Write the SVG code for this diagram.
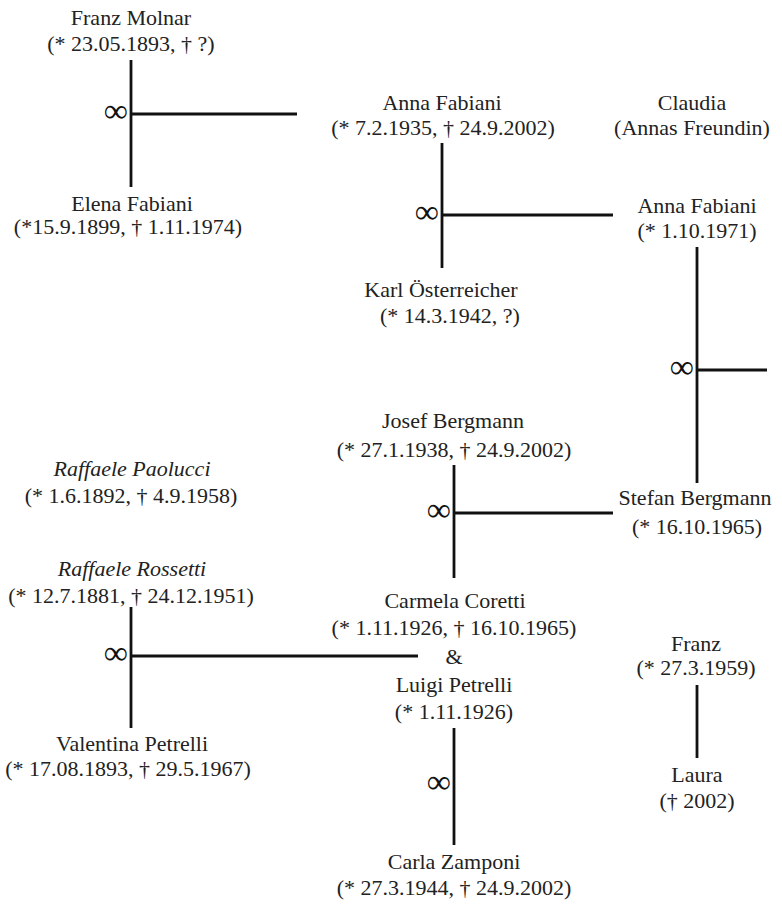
<svg xmlns="http://www.w3.org/2000/svg" width="782" height="904" viewBox="0 0 782 904">
<style>
text{font-family:'Liberation Serif','DejaVu Serif',serif;font-size:22px;fill:#222;text-anchor:middle}
.it{font-style:italic}
.inf{font-size:34px;text-anchor:end;fill:#111}
line{stroke:#111;stroke-width:2.8;stroke-linecap:butt}
</style>
<rect width="782" height="904" fill="#fff"/>
<g id="connectors">
<line x1="131" y1="60" x2="131" y2="187"/>
<line x1="131" y1="114" x2="297" y2="114"/>
<line x1="442" y1="143" x2="442" y2="268"/>
<line x1="442" y1="215" x2="613" y2="215"/>
<line x1="697" y1="247" x2="697" y2="483"/>
<line x1="697" y1="370" x2="767" y2="370"/>
<line x1="454" y1="465" x2="454" y2="578"/>
<line x1="454" y1="513" x2="613" y2="513"/>
<line x1="131" y1="607" x2="131" y2="728"/>
<line x1="131" y1="656" x2="418" y2="656"/>
<line x1="454" y1="728" x2="454" y2="845"/>
<line x1="697" y1="685" x2="697" y2="758"/>
<text class="inf" x="128" y="122">∞</text>
<text class="inf" x="439" y="223">∞</text>
<text class="inf" x="694" y="378">∞</text>
<text class="inf" x="451" y="521">∞</text>
<text class="inf" x="128" y="664">∞</text>
<text class="inf" x="451" y="793">∞</text>
</g>
<g id="franz-molnar"><text x="131" y="25">Franz Molnar</text><text x="131" y="51">(* 23.05.1893, † ?)</text></g>
<g id="elena-fabiani"><text x="132" y="211">Elena Fabiani</text><text x="128" y="234">(*15.9.1899, † 1.11.1974)</text></g>
<g id="anna-fabiani-1935"><text x="442" y="110">Anna Fabiani</text><text x="443" y="135">(* 7.2.1935, † 24.9.2002)</text></g>
<g id="claudia"><text x="692" y="110">Claudia</text><text x="692" y="135">(Annas Freundin)</text></g>
<g id="anna-fabiani-1971"><text x="697" y="213">Anna Fabiani</text><text x="697" y="238">(* 1.10.1971)</text></g>
<g id="karl-oesterreicher"><text x="441" y="297">Karl Österreicher</text><text x="450" y="323">(* 14.3.1942, ?)</text></g>
<g id="josef-bergmann"><text x="453" y="428">Josef Bergmann</text><text x="454" y="457">(* 27.1.1938, † 24.9.2002)</text></g>
<g id="stefan-bergmann"><text x="695" y="505">Stefan Bergmann</text><text x="697" y="534">(* 16.10.1965)</text></g>
<g id="raffaele-paolucci"><text class="it" x="132" y="476">Raffaele Paolucci</text><text x="131" y="503">(* 1.6.1892, † 4.9.1958)</text></g>
<g id="raffaele-rossetti"><text class="it" x="132" y="576">Raffaele Rossetti</text><text x="131" y="603">(* 12.7.1881, † 24.12.1951)</text></g>
<g id="valentina-petrelli"><text x="132" y="751">Valentina Petrelli</text><text x="128" y="776">(* 17.08.1893, † 29.5.1967)</text></g>
<g id="carmela-luigi"><text x="455" y="608">Carmela Coretti</text><text x="454" y="635">(* 1.11.1926, † 16.10.1965)</text><text x="454" y="664">&amp;</text><text x="454" y="692">Luigi Petrelli</text><text x="454" y="719">(* 1.11.1926)</text></g>
<g id="carla-zamponi"><text x="454" y="869">Carla Zamponi</text><text x="454" y="895">(* 27.3.1944, † 24.9.2002)</text></g>
<g id="franz"><text x="696" y="651">Franz</text><text x="696" y="675">(* 27.3.1959)</text></g>
<g id="laura"><text x="697" y="782">Laura</text><text x="697" y="808">(† 2002)</text></g>
</svg>
